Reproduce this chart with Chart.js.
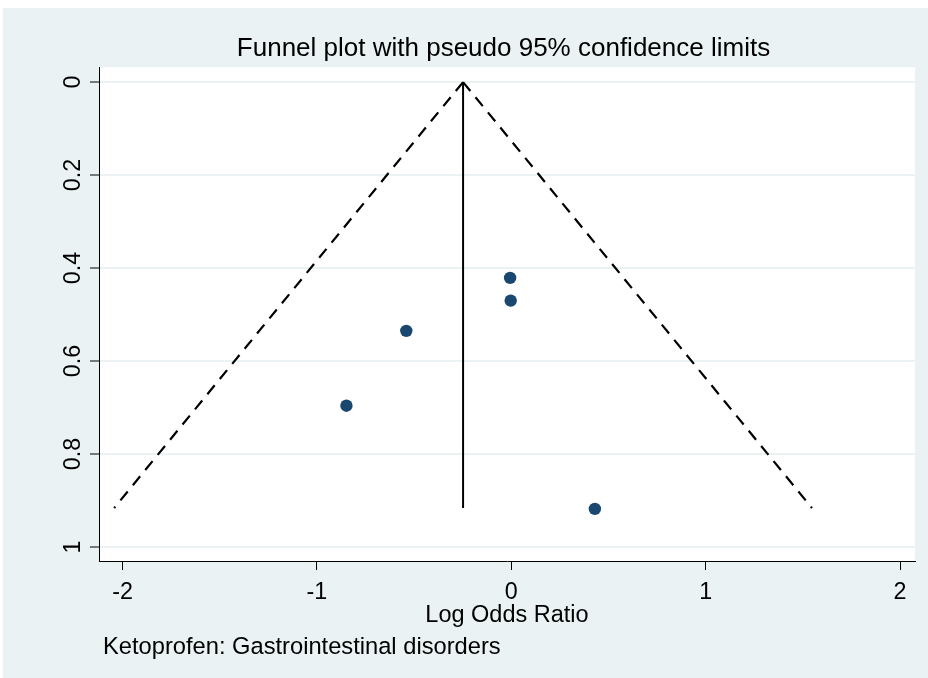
<!DOCTYPE html>
<html>
<head>
<meta charset="utf-8">
<script src="https://cdn.jsdelivr.net/npm/chart.js@4.4.1/dist/chart.umd.min.js"></script>
<style>
  html, body { margin: 0; padding: 0; background: #ffffff; }
  #wrap { width: 928px; height: 678px; }
</style>
</head>
<body>
<div id="wrap"><canvas id="c" width="928" height="678"></canvas></div>
<script>
// ---- data ----
const chartTitle = 'Funnel plot with pseudo 95% confidence limits';
const xAxisTitle = 'Log Odds Ratio';
const captionText = 'Ketoprofen: Gastrointestinal disorders';

const xTickValues = [-2, -1, 0, 1, 2];
const xTickLabels = ['-2', '-1', '0', '1', '2'];
const yTickValues = [0, 0.2, 0.4, 0.6, 0.8, 1];
const yTickLabels = ['0', '0.2', '0.4', '0.6', '0.8', '1'];

// studies: log odds ratio and standard error
const studyLogOR = [-0.006, -0.003, -0.540, -0.848, 0.430];
const studySE    = [0.421, 0.470, 0.535, 0.696, 0.918];

// pooled estimate line and pseudo 95% limits
const pooledX = [-0.248, -0.248];
const limitSE = [0, 0.916];
const lowerLimitX = [-0.248, -2.043];
const upperLimitX = [-0.248, 1.547];

const xRange = [-2.121, 2.077];
const yRange = [-0.032, 1.030];

// ---- helpers ----
const FONT = '"Liberation Sans", Arial, Helvetica, sans-serif';
const BG = '#EAF2F3';
const pts = (xs, ys) => xs.map((x, i) => ({ x: x, y: ys[i] }));

const bgPlugin = {
  id: 'bg',
  beforeDraw(chart) {
    const { ctx, width, height, chartArea } = chart;
    ctx.save();
    ctx.fillStyle = '#ffffff';
    ctx.fillRect(0, 0, width, height);
    ctx.fillStyle = BG;
    ctx.fillRect(3, 8, width - 3, height - 8);
    ctx.fillStyle = '#ffffff';
    ctx.fillRect(chartArea.left, chartArea.top, chartArea.right - chartArea.left, chartArea.bottom - chartArea.top);
    ctx.restore();
  }
};

// rotated y tick labels (placed with the y scale) and caption
const textPlugin = {
  id: 'texts',
  afterDraw(chart) {
    const ctx = chart.ctx;
    const ys = chart.scales.y;
    ctx.save();
    ctx.fillStyle = '#000';
    ctx.font = '23.3px ' + FONT;
    yTickValues.forEach((v, i) => {
      const py = ys.getPixelForValue(v);
      ctx.save();
      ctx.translate(ys.right - 19, py);
      ctx.rotate(-Math.PI / 2);
      ctx.textAlign = 'center';
      ctx.textBaseline = 'alphabetic';
      ctx.fillText(yTickLabels[i], 0, 0);
      ctx.restore();
    });
    ctx.font = '23.7px ' + FONT;
    ctx.textAlign = 'left';
    ctx.textBaseline = 'alphabetic';
    ctx.fillText(captionText, 103, 653.5);
    ctx.restore();
  }
};

Chart.defaults.color = '#000';
Chart.defaults.font.family = FONT;

new Chart(document.getElementById('c'), {
  type: 'scatter',
  data: {
    datasets: [
      {
        label: 'Studies',
        data: pts(studyLogOR, studySE),
        pointRadius: 6.2,
        pointBackgroundColor: '#1a476f',
        pointBorderColor: '#1a476f',
        pointBorderWidth: 0,
        showLine: false
      },
      {
        label: 'Pooled',
        data: pts(pooledX, limitSE),
        showLine: true,
        borderColor: '#000',
        borderWidth: 2,
        pointRadius: 0,
        fill: false
      },
      {
        label: 'Lower limit',
        data: pts(lowerLimitX, limitSE),
        showLine: true,
        borderColor: '#000',
        borderWidth: 2.2,
        borderDash: [11.5, 8.1],
        pointRadius: 0,
        fill: false
      },
      {
        label: 'Upper limit',
        data: pts(upperLimitX, limitSE),
        showLine: true,
        borderColor: '#000',
        borderWidth: 2.2,
        borderDash: [11.5, 8.1],
        pointRadius: 0,
        fill: false
      }
    ]
  },
  options: {
    responsive: false,
    animation: false,
    devicePixelRatio: 1,
    layout: { padding: { left: 92, right: 13, top: 0, bottom: 0 } },
    plugins: {
      legend: { display: false },
      tooltip: { enabled: false },
      title: {
        display: true,
        text: chartTitle,
        color: '#000',
        font: { family: FONT, size: 26, weight: 'normal', lineHeight: 1.2 },
        padding: { top: 33.5, bottom: 2.5 }
      }
    },
    scales: {
      x: {
        type: 'linear',
        min: xRange[0],
        max: xRange[1],
        afterBuildTicks(scale) { scale.ticks = xTickValues.map(v => ({ value: v })); },
        afterFit(scale) { scale.height = 117; },
        ticks: {
          color: '#000',
          font: { family: FONT, size: 23.3 },
          padding: 9,
          maxRotation: 0,
          minRotation: 0,
          callback: (v) => xTickLabels[xTickValues.indexOf(v)]
        },
        grid: {
          drawOnChartArea: false,
          drawTicks: true,
          tickLength: 9,
          tickColor: '#000',
          tickWidth: 1
        },
        border: { display: true, color: '#000', width: 1 },
        title: {
          display: true,
          text: xAxisTitle,
          color: '#000',
          font: { family: FONT, size: 23.5, lineHeight: 1.2 },
          padding: { top: 0, bottom: 48.8 }
        }
      },
      y: {
        type: 'linear',
        reverse: true,
        min: yRange[0],
        max: yRange[1],
        afterBuildTicks(scale) { scale.ticks = yTickValues.map(v => ({ value: v })); },
        afterFit(scale) { scale.width = 7; },
        ticks: {
          display: false,
          callback: (v) => yTickLabels[yTickValues.indexOf(v)]
        },
        grid: {
          drawOnChartArea: true,
          color: BG,
          lineWidth: 2,
          drawTicks: true,
          tickLength: 9,
          tickColor: '#000',
          tickWidth: 1
        },
        border: { display: true, color: '#000', width: 1 }
      }
    }
  },
  plugins: [bgPlugin, textPlugin]
});
</script>
</body>
</html>
